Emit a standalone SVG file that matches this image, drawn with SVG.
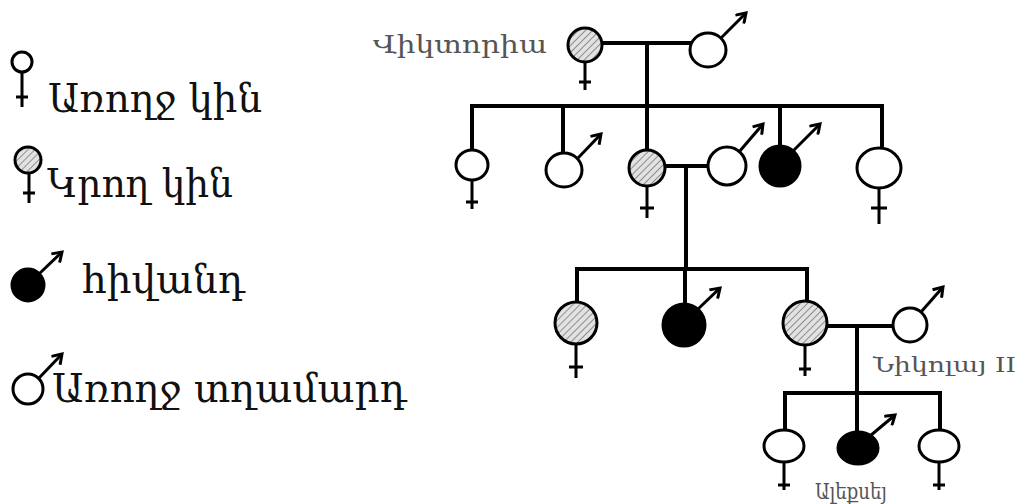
<svg xmlns="http://www.w3.org/2000/svg" width="1016" height="504" viewBox="0 0 1016 504">
  <style>
    .ln { stroke: #000; stroke-width: 4; fill: none; stroke-linecap: square; }
    .sym { stroke: #000; stroke-width: 3; fill: none; }
    .w { fill: #fff; stroke: #000; stroke-width: 3; }
    .h { fill: url(#hatch); stroke: #000; stroke-width: 3; }
    .b { fill: #000; stroke: #000; stroke-width: 3; }
    .arr { stroke: #000; stroke-width: 3; fill: none; marker-end: url(#head); }
    .leg { font-family: "DejaVu Serif", serif; font-size: 40px; fill: #111; }
    .nm { font-family: "DejaVu Serif", serif; fill: #555; }
  </style>
  <defs>
    <pattern id="hatch" patternUnits="userSpaceOnUse" width="5" height="5" patternTransform="rotate(45)">
      <rect width="5" height="5" fill="#e2e2e2"/>
      <line x1="0" y1="0" x2="0" y2="5" stroke="#7a7a7a" stroke-width="1.6"/>
    </pattern>
    <marker id="head" markerUnits="userSpaceOnUse" markerWidth="14" markerHeight="14" refX="11" refY="7" orient="auto">
      <path d="M2,1 L11,7 L2,13" fill="none" stroke="#000" stroke-width="3"/>
    </marker>
  </defs>

  <!-- legend -->
  <g id="legend-healthy-female">
    <circle class="sym" cx="22" cy="62" r="10"/>
    <path class="sym" d="M22,72 V107 M16,97 H28"/>
    <text class="leg" x="48" y="112" textLength="214" lengthAdjust="spacingAndGlyphs">Առողջ կին</text>
  </g>
  <g id="legend-carrier-female">
    <circle class="h" cx="28" cy="160" r="13" stroke-width="2.5"/>
    <path class="sym" d="M29,173 V203 M23,193 H35"/>
    <text class="leg" x="47" y="197" textLength="186" lengthAdjust="spacingAndGlyphs">Կրող կին</text>
  </g>
  <g id="legend-affected-male">
    <circle class="b" cx="28" cy="285" r="16"/>
    <line class="arr" x1="40" y1="273" x2="62" y2="252"/>
    <text class="leg" x="82" y="293" textLength="163" lengthAdjust="spacingAndGlyphs">հիվանդ</text>
  </g>
  <g id="legend-healthy-male">
    <circle class="sym" cx="28" cy="389" r="15"/>
    <line class="arr" x1="39" y1="378" x2="62" y2="354"/>
    <text class="leg" x="52" y="402" textLength="355" lengthAdjust="spacingAndGlyphs">Առողջ տղամարդ</text>
  </g>

  <!-- connectors -->
  <g id="connectors">
    <path class="ln" d="M602,43 H690 M647,43 V106"/>
    <path class="ln" d="M472,106 H882 M472,106 V150 M563,106 V153 M647,106 V150 M780,106 V145 M882,106 V148"/>
    <path class="ln" d="M665,166 H708 M686,166 V269"/>
    <path class="ln" d="M577,269 H807 M577,269 V301 M685,269 V303 M807,269 V300"/>
    <path class="ln" d="M828,326 H892 M857,326 V432"/>
    <path class="ln" d="M785,393 H940 M785,393 V430 M940,393 V430"/>
  </g>

  <!-- generation I -->
  <g id="victoria">
    <circle class="h" cx="585" cy="45" r="17"/>
    <path class="sym" d="M585,62 V90 M579,82 H591"/>
    <text class="nm" x="373" y="53" font-size="25" textLength="174" lengthAdjust="spacingAndGlyphs">Վիկտորիա</text>
  </g>
  <g id="albert">
    <ellipse class="w" cx="708" cy="50" rx="18" ry="17"/>
    <line class="arr" x1="721" y1="38" x2="746" y2="13"/>
  </g>

  <!-- generation II -->
  <g id="g2-f1">
    <ellipse class="w" cx="472" cy="165" rx="16" ry="15"/>
    <path class="sym" d="M472,180 V209 M466,202 H478"/>
  </g>
  <g id="g2-m1">
    <ellipse class="w" cx="564" cy="170" rx="18" ry="17"/>
    <line class="arr" x1="578" y1="158" x2="601" y2="134"/>
  </g>
  <g id="g2-f2">
    <circle class="h" cx="647" cy="168" r="18"/>
    <path class="sym" d="M647,186 V218 M640,208 H654"/>
  </g>
  <g id="g2-m2">
    <ellipse class="w" cx="727" cy="166" rx="19" ry="19"/>
    <line class="arr" x1="739" y1="152" x2="763" y2="124"/>
  </g>
  <g id="g2-m3">
    <circle class="b" cx="780" cy="166" r="20"/>
    <line class="arr" x1="793" y1="151" x2="820" y2="124"/>
  </g>
  <g id="g2-f3">
    <ellipse class="w" cx="879" cy="168" rx="22" ry="20"/>
    <path class="sym" d="M879,188 V224 M871,208 H887"/>
  </g>

  <!-- generation III -->
  <g id="g3-f1">
    <circle class="h" cx="576" cy="323" r="21"/>
    <path class="sym" d="M576,344 V378 M569,367 H583"/>
  </g>
  <g id="g3-m1">
    <circle class="b" cx="684" cy="325" r="21"/>
    <line class="arr" x1="697" y1="310" x2="720" y2="288"/>
  </g>
  <g id="g3-f2">
    <circle class="h" cx="805" cy="323" r="22"/>
    <path class="sym" d="M805,345 V376 M799,369 H811"/>
  </g>
  <g id="nicholas">
    <circle class="w" cx="910" cy="325" r="17"/>
    <line class="arr" x1="921" y1="312" x2="943" y2="287"/>
    <text class="nm" x="873" y="372" font-size="21" textLength="143" lengthAdjust="spacingAndGlyphs">Նիկոլայ II</text>
  </g>

  <!-- generation IV -->
  <g id="g4-f1">
    <ellipse class="w" cx="784" cy="446" rx="20" ry="16"/>
    <path class="sym" d="M784,462 V490 M778,485 H790"/>
  </g>
  <g id="alexei">
    <ellipse class="b" cx="858" cy="448" rx="20" ry="16"/>
    <line class="arr" x1="870" y1="436" x2="895" y2="415"/>
    <text class="nm" x="815" y="499" font-size="23" textLength="72" lengthAdjust="spacingAndGlyphs">Ալեքսեյ</text>
  </g>
  <g id="g4-f2">
    <ellipse class="w" cx="939" cy="446" rx="20" ry="16"/>
    <path class="sym" d="M939,462 V490 M933,485 H945"/>
  </g>
</svg>
